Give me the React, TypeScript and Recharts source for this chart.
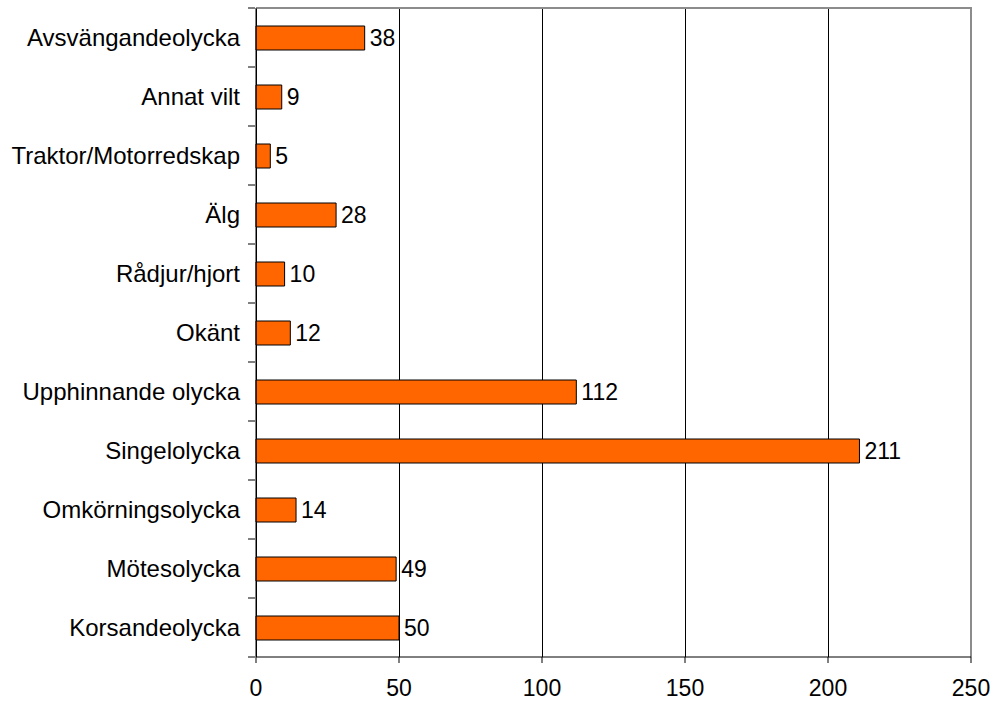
import * as R from "recharts";
import { Bar, BarChart, CartesianGrid, LabelList, XAxis, YAxis } from "recharts";

const categories = [
  "Avsvängandeolycka",
  "Annat vilt",
  "Traktor/Motorredskap",
  "Älg",
  "Rådjur/hjort",
  "Okänt",
  "Upphinnande olycka",
  "Singelolycka",
  "Omkörningsolycka",
  "Mötesolycka",
  "Korsandeolycka",
];
const counts = [38, 9, 5, 28, 10, 12, 112, 211, 14, 49, 50];
const xTicks = [0, 50, 100, 150, 200, 250];

const W = 994;
const H = 703;
const M = { top: 8, right: 23, left: 0, bottom: 0 };
const Y_W = 256;
const X_H = 46;
const FONT = "'Liberation Sans', Arial, sans-serif";
const FRAME = "#8c8c8c";

const rows = categories.map((name, i) => ({ name, value: counts[i] }));
const plotH = H - M.top - M.bottom - X_H;
const plotW = W - M.left - M.right - Y_W;
const band = plotH / categories.length;

const fallbackArea = () => ({ x: M.left + Y_W, y: M.top, width: plotW, height: plotH });
const usePA: () => any = (R as any).usePlotArea ?? fallbackArea;

// grey top and right frame of the plot area
const Frame = () => {
  const p = usePA() ?? fallbackArea();
  return (
    <path
      d={`M${p.x},${p.y}H${p.x + p.width}V${p.y + p.height}`}
      fill="none"
      stroke={FRAME}
      strokeWidth={2}
    />
  );
};

const CatTick = (props: any) => {
  const { x, y, payload, index } = props;
  const top = y - band / 2;
  return (
    <g>
      <text
        x={x - 8}
        y={y}
        dy="0.35em"
        textAnchor="end"
        fontSize={24}
        fontFamily={FONT}
        fill="#000"
      >
        {payload.value}
      </text>
      <line x1={x} x2={x + 7} y1={top} y2={top} stroke="#000" />
      {index === categories.length - 1 && (
        <line x1={x} x2={x + 7} y1={y + band / 2} y2={y + band / 2} stroke="#000" />
      )}
    </g>
  );
};

export default function App() {
  return (
    <div style={{ position: "absolute", left: 0, top: 0 }}>
      <BarChart width={W} height={H} data={rows} layout="vertical" margin={M} barSize={24}>
        <CartesianGrid horizontal={false} vertical stroke="#000" shapeRendering="crispEdges" />
        <Frame />
        <XAxis
          type="number"
          domain={[0, 250]}
          ticks={xTicks}
          interval={0}
          height={X_H}
          stroke="#000"
          tickSize={6}
          tickMargin={17}
          tick={{ fontSize: 23, fontFamily: FONT, fill: "#000" }}
        />
        <YAxis
          type="category"
          dataKey="name"
          width={Y_W}
          tickLine={false}
          stroke="#000"
          interval={0}
          tick={<CatTick />}
        />
        <Bar dataKey="value" fill="#ff6600" stroke="#000" strokeWidth={1} isAnimationActive={false}>
          <LabelList
            dataKey="value"
            position="right"
            offset={5}
            fill="#000"
            fontSize={23}
            fontFamily={FONT}
          />
        </Bar>
      </BarChart>
    </div>
  );
}
